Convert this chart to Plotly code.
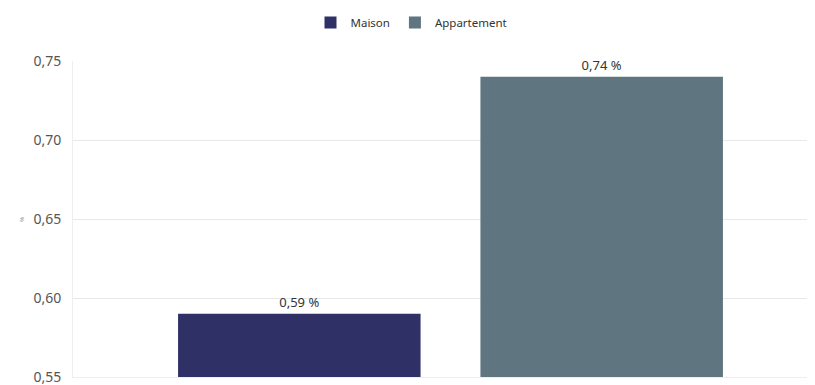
import plotly.graph_objects as go

categories = [""]
series_names = ["Maison", "Appartement"]
maison_values = [0.59]
appartement_values = [0.74]
colors = ["#2f3066", "#5f7580"]
y_tick_values = [0.55, 0.60, 0.65, 0.70, 0.75]
y_title = "%"

fig = go.Figure()
for name, vals, col in zip(series_names, [maison_values, appartement_values], colors):
    fig.add_trace(go.Bar(
        x=categories, y=vals, name=name, marker=dict(color=col, line=dict(width=0)),
        texttemplate="%{y:.2f} %", textposition="outside", cliponaxis=False,
        textfont=dict(size=13, color="#333333"),
    ))

fig.update_layout(
    width=807, height=377,
    margin=dict(l=65, r=0, t=53, b=8),
    paper_bgcolor="white", plot_bgcolor="white",
    separators=", ",
    font=dict(family="Noto Sans, Open Sans, sans-serif", color="#444444"),
    barmode="group", bargap=0.199, bargroupgap=0.198,
    legend=dict(orientation="h", x=0.5, xanchor="center", xref="container",
                y=1.0, yanchor="top", yref="container",
                font=dict(size=11.5, color="#333333"),
                itemwidth=30, traceorder="normal"),
    xaxis=dict(range=[-0.5, 0.4828], showgrid=False, showticklabels=False,
               showline=True, linecolor="#eeeeee", linewidth=1, fixedrange=True),
    yaxis=dict(range=[0.55, 0.75], tickvals=y_tick_values, tickformat=".2f",
               showgrid=True, gridcolor="#e8e8e8", gridwidth=1,
               showline=True, linecolor="#eeeeee", zeroline=False,
               ticklabeloverflow="allow",
               tickfont=dict(size=14, color="#555555"), ticklabelstandoff=8),
    annotations=[dict(text=y_title, xref="paper", yref="paper", x=-0.077, y=0.5,
                      textangle=-90, showarrow=False, font=dict(size=6, color="#888888"))],
)

fig.write_html("out.html")
